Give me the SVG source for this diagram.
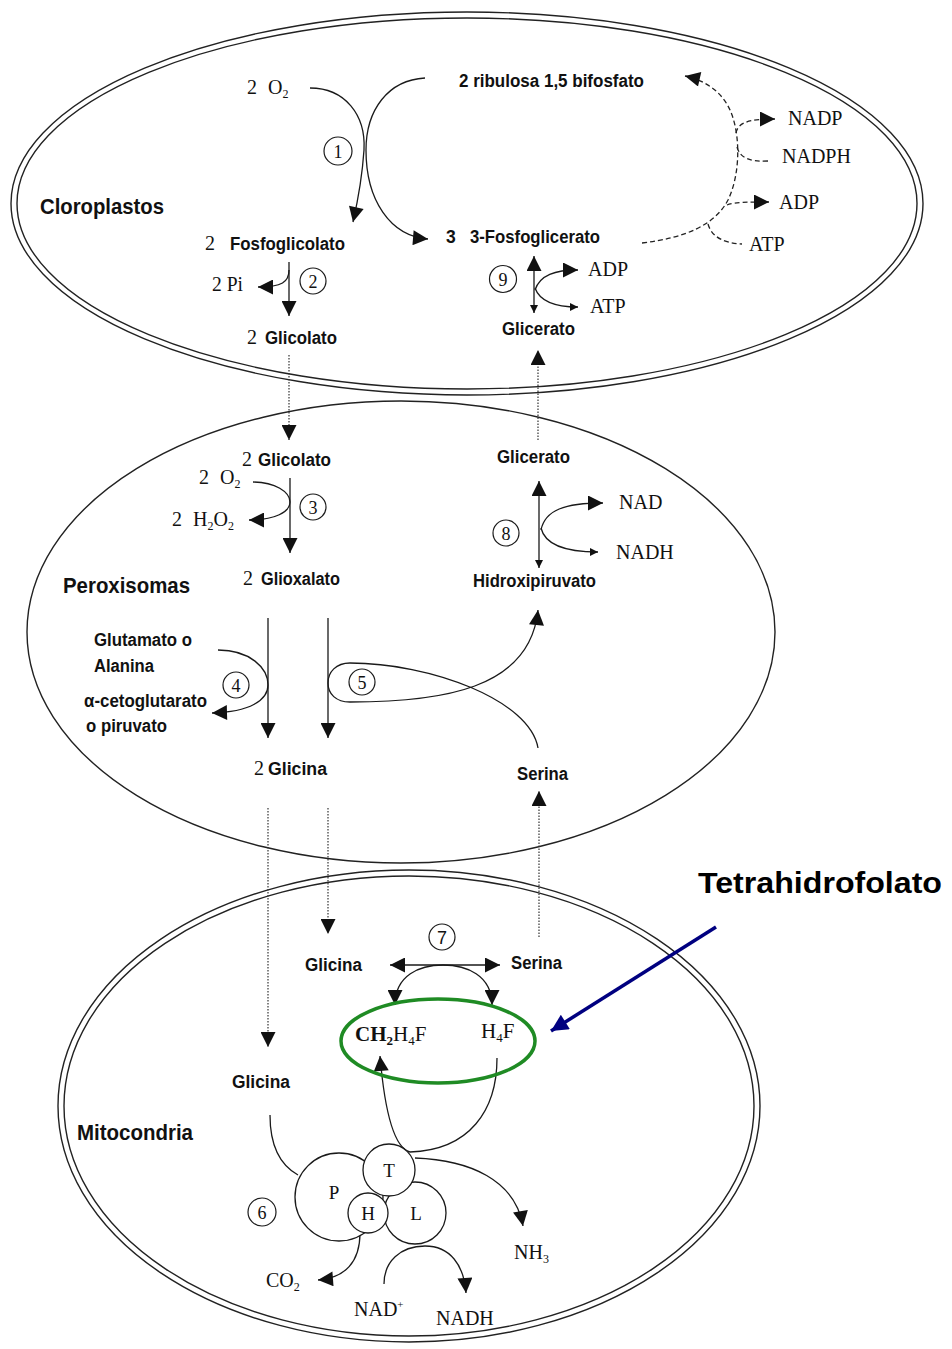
<svg xmlns="http://www.w3.org/2000/svg" width="952" height="1349" viewBox="0 0 952 1349">
<style>
.b{font-family:"Liberation Sans",Arial,sans-serif;font-weight:bold;font-size:17.5px;fill:#111}
.h{font-family:"Liberation Sans",Arial,sans-serif;font-weight:bold;font-size:21.5px;fill:#111}
.s{font-family:"Liberation Serif","Times New Roman",serif;font-size:20px;fill:#111}
.n{font-family:"Liberation Serif","Times New Roman",serif;font-size:18px;fill:#111;text-anchor:middle}
.e{font-family:"Liberation Serif","Times New Roman",serif;font-size:19px;fill:#111;text-anchor:middle}
.c{fill:none;stroke:#1a1a1a;stroke-width:1.3}
.d{fill:none;stroke:#333;stroke-width:1.2;stroke-dasharray:1.5 1.5}
.da{fill:none;stroke:#222;stroke-width:1.3;stroke-dasharray:5 3}
.wall{fill:none;stroke:#222;stroke-width:1.4}
.num{fill:#fff;stroke:#1a1a1a;stroke-width:1.2}
.enz{fill:#fff;stroke:#1a1a1a;stroke-width:1.3}
</style>
<defs>
<marker id="a" viewBox="0 0 10 10" refX="10" refY="5" markerWidth="17" markerHeight="15" markerUnits="userSpaceOnUse" orient="auto-start-reverse"><path d="M0,0L10,5L0,10z" fill="#111"/></marker>
<marker id="sm" viewBox="0 0 10 10" refX="10" refY="5" markerWidth="9" markerHeight="8" markerUnits="userSpaceOnUse" orient="auto-start-reverse"><path d="M0,0L10,5L0,10z" fill="#111"/></marker>
<marker id="bl" viewBox="0 0 10 10" refX="10" refY="5" markerWidth="22" markerHeight="17" markerUnits="userSpaceOnUse" orient="auto"><path d="M0,0L10,5L0,10z" fill="#000080"/></marker>
</defs>
<rect width="952" height="1349" fill="#fff"/>

<g id="cloroplasto">
<ellipse class="wall" cx="467" cy="203.5" rx="456" ry="191.5"/>
<ellipse class="wall" cx="467" cy="203.5" rx="450" ry="185.5"/>
<text class="h" x="40" y="214" textLength="124" lengthAdjust="spacingAndGlyphs">Cloroplastos</text>
</g>
<g id="peroxisoma">
<ellipse class="wall" cx="401" cy="632" rx="374" ry="231"/>
<text class="h" x="63" y="593" textLength="127" lengthAdjust="spacingAndGlyphs">Peroxisomas</text>
</g>
<g id="mitocondria">
<ellipse class="wall" cx="409" cy="1106" rx="351" ry="236"/>
<ellipse class="wall" cx="409" cy="1106" rx="345" ry="230"/>
<text class="h" x="77" y="1140" textLength="116" lengthAdjust="spacingAndGlyphs">Mitocondria</text>
</g>

<g id="connectors">
<path class="c" d="M310,88 C345,88 366,115 364,150 C362,180 358,200 353,222" marker-end="url(#a)"/>
<path class="c" d="M425,78 C388,80 366,110 366,150 C366,200 390,236 428,239" marker-end="url(#a)"/>
<path class="c" d="M289,262 L289,316" marker-end="url(#a)"/>
<path class="c" d="M289,270 C289,282 282,287 258,287" marker-end="url(#a)"/>
<path class="c" d="M534,313 L534,256" marker-end="url(#a)" marker-start="url(#sm)"/>
<path class="c" d="M535,290 C540,275 555,270 578,270" marker-end="url(#a)"/>
<path class="c" d="M535,288 C540,302 555,307 578,307" marker-end="url(#sm)"/>
<path class="da" d="M642,243 C685,238 715,225 728,200 C740,175 740,140 733,118 C727,98 712,82 685,76" marker-end="url(#a)"/>
<path class="da" d="M736,133 C738,122 750,119 775,119" marker-end="url(#a)"/>
<path class="da" d="M737,147 C740,158 750,162 768,161"/>
<path class="da" d="M727,205 C735,202 750,202 769,202" marker-end="url(#a)"/>
<path class="da" d="M708,224 C712,238 725,243 742,244"/>
<path class="d" d="M289,355 L289,440" marker-end="url(#a)"/>
<path class="d" d="M538,440 L538,350" marker-end="url(#a)"/>
<path class="c" d="M290,478 L290,553" marker-end="url(#a)"/>
<path class="c" d="M253,482 C275,482 290,492 290,502 C290,512 275,520 249,520" marker-end="url(#a)"/>
<path class="c" d="M268,618 L268,738" marker-end="url(#a)"/>
<path class="c" d="M328,618 L328,738" marker-end="url(#a)"/>
<path class="c" d="M218,650 C250,650 268,668 268,685 C268,700 250,712 212,713" marker-end="url(#a)"/>
<path class="c" d="M538,748 C530,700 430,663 350,663 C336,663 328,672 328,683 C328,694 336,702 350,702 C440,702 530,690 538,610" marker-end="url(#a)"/>
<path class="c" d="M539,568 L539,481" marker-end="url(#a)" marker-start="url(#sm)"/>
<path class="c" d="M541,530 C545,510 565,503 603,503" marker-end="url(#a)"/>
<path class="c" d="M541,528 C545,545 565,552 598,552" marker-end="url(#sm)"/>
<path class="d" d="M268,808 L268,1047" marker-end="url(#a)"/>
<path class="d" d="M328,808 L328,934" marker-end="url(#a)"/>
<path class="d" d="M539,937 L539,791" marker-end="url(#a)"/>
<path class="c" d="M390,965 L500,965" marker-start="url(#a)" marker-end="url(#a)"/>
<path class="c" d="M395,1005 C395,975 420,965 443,965 C466,965 492,975 492,1005" marker-start="url(#a)" marker-end="url(#a)"/>
<path class="c" d="M497,1058 C497,1110 470,1150 410,1152 C395,1148 385,1115 380,1056" marker-end="url(#a)"/>
<path class="c" d="M270,1115 C270,1145 280,1165 298,1175"/>
<path class="c" d="M415,1158 C470,1160 515,1180 523,1226" marker-end="url(#a)"/>
<path class="c" d="M360,1233 C360,1262 345,1278 318,1280" marker-end="url(#a)"/>
<path class="c" d="M384,1284 C384,1262 400,1246 425,1246 C450,1246 464,1265 466,1293" marker-end="url(#a)"/>
<path d="M716,927 L551,1031" stroke="#000080" stroke-width="3.5" fill="none" marker-end="url(#bl)"/>
</g>

<g id="ribulosa"><text class="b" x="459" y="87" textLength="185" lengthAdjust="spacingAndGlyphs">2 ribulosa 1,5 bifosfato</text></g>
<g id="o2-c"><text class="s" x="247" y="94">2</text><text class="s" x="268" y="94">O<tspan font-size="12" dy="4">2</tspan></text></g>
<g id="n1"><circle class="num" cx="338" cy="151" r="14"/><text class="n" x="338" y="157.5">1</text></g>
<g id="fosfoglicolato"><text class="s" x="205" y="250">2</text><text class="b" x="230" y="250" textLength="115" lengthAdjust="spacingAndGlyphs">Fosfoglicolato</text></g>
<g id="fosfoglicerato"><text class="b" x="446" y="243">3</text><text class="b" x="470" y="243" textLength="130" lengthAdjust="spacingAndGlyphs">3-Fosfoglicerato</text></g>
<g id="pi"><text class="s" x="212" y="291" textLength="31" lengthAdjust="spacingAndGlyphs">2 Pi</text></g>
<g id="n2"><circle class="num" cx="313" cy="281" r="13"/><text class="n" x="313" y="287.5">2</text></g>
<g id="glicolato-c"><text class="s" x="247" y="344">2</text><text class="b" x="265" y="344" textLength="72" lengthAdjust="spacingAndGlyphs">Glicolato</text></g>
<g id="n9"><circle class="num" cx="503" cy="279" r="13.5"/><text class="n" x="503" y="285.5">9</text></g>
<g id="adp-c1"><text class="s" x="588" y="276">ADP</text></g>
<g id="atp-c1"><text class="s" x="590" y="313">ATP</text></g>
<g id="glicerato-c"><text class="b" x="502" y="335" textLength="73" lengthAdjust="spacingAndGlyphs">Glicerato</text></g>
<g id="nadp"><text class="s" x="788" y="125">NADP</text></g>
<g id="nadph"><text class="s" x="782" y="163">NADPH</text></g>
<g id="adp-c2"><text class="s" x="779" y="209">ADP</text></g>
<g id="atp-c2"><text class="s" x="749" y="251">ATP</text></g>

<g id="glicolato-p"><text class="s" x="242" y="466">2</text><text class="b" x="258" y="466" textLength="73" lengthAdjust="spacingAndGlyphs">Glicolato</text></g>
<g id="o2-p"><text class="s" x="199" y="484">2</text><text class="s" x="220" y="484">O<tspan font-size="12" dy="4">2</tspan></text></g>
<g id="h2o2"><text class="s" x="172" y="526">2</text><text class="s" x="193" y="526">H<tspan font-size="12" dy="4">2</tspan><tspan dy="-4">O</tspan><tspan font-size="12" dy="4">2</tspan></text></g>
<g id="n3"><circle class="num" cx="313" cy="507" r="13"/><text class="n" x="313" y="513.5">3</text></g>
<g id="glioxalato"><text class="s" x="243" y="585">2</text><text class="b" x="261" y="585" textLength="79" lengthAdjust="spacingAndGlyphs">Glioxalato</text></g>
<g id="glutamato"><text class="b" x="94" y="646" textLength="98" lengthAdjust="spacingAndGlyphs">Glutamato o</text><text class="b" x="94" y="672" textLength="60" lengthAdjust="spacingAndGlyphs">Alanina</text></g>
<g id="n4"><circle class="num" cx="236" cy="685" r="13"/><text class="n" x="236" y="691.5">4</text></g>
<g id="cetoglutarato"><text class="b" x="84" y="707" textLength="123" lengthAdjust="spacingAndGlyphs">α-cetoglutarato</text><text class="b" x="86" y="732" textLength="81" lengthAdjust="spacingAndGlyphs">o piruvato</text></g>
<g id="n5"><circle class="num" cx="362" cy="682" r="13"/><text class="n" x="362" y="688.5">5</text></g>
<g id="glicina-p"><text class="s" x="254" y="775">2</text><text class="b" x="268" y="775" textLength="59" lengthAdjust="spacingAndGlyphs">Glicina</text></g>
<g id="glicerato-p"><text class="b" x="497" y="463" textLength="73" lengthAdjust="spacingAndGlyphs">Glicerato</text></g>
<g id="n8"><circle class="num" cx="506" cy="533" r="13"/><text class="n" x="506" y="539.5">8</text></g>
<g id="nad-p"><text class="s" x="619" y="509">NAD</text></g>
<g id="nadh-p"><text class="s" x="616" y="559">NADH</text></g>
<g id="hidroxipiruvato"><text class="b" x="473" y="587" textLength="123" lengthAdjust="spacingAndGlyphs">Hidroxipiruvato</text></g>
<g id="serina-p"><text class="b" x="517" y="780" textLength="51" lengthAdjust="spacingAndGlyphs">Serina</text></g>

<g id="n7"><circle class="num" cx="442" cy="937" r="13"/><text class="n" x="442" y="943.5" style="font-family:'Liberation Sans',Arial,sans-serif">7</text></g>
<g id="glicina-m1"><text class="b" x="305" y="971" textLength="57" lengthAdjust="spacingAndGlyphs">Glicina</text></g>
<g id="serina-m"><text class="b" x="511" y="969" textLength="51" lengthAdjust="spacingAndGlyphs">Serina</text></g>
<g id="thf">
<ellipse cx="438" cy="1041" rx="97" ry="42" fill="none" stroke="#1f8b24" stroke-width="3.5"/>
<text class="s" x="355" y="1041" style="font-size:21px"><tspan font-weight="bold">CH</tspan><tspan font-weight="bold" font-size="13" dy="4">2</tspan><tspan dy="-4">H</tspan><tspan font-size="13" dy="4">4</tspan><tspan dy="-4">F</tspan></text>
<text class="s" x="481" y="1038" style="font-size:21px">H<tspan font-size="13" dy="4">4</tspan><tspan dy="-4">F</tspan></text>
</g>
<g id="glicina-m2"><text class="b" x="232" y="1088" textLength="58" lengthAdjust="spacingAndGlyphs">Glicina</text></g>
<g id="complejo">
<circle class="enz" cx="339" cy="1197" r="44"/>
<circle class="enz" cx="415" cy="1213" r="31"/>
<circle class="enz" cx="368" cy="1213" r="20"/>
<circle class="enz" cx="389" cy="1170" r="26"/>
<text class="e" x="334" y="1199">P</text>
<text class="e" x="389" y="1177">T</text>
<text class="e" x="368" y="1220">H</text>
<text class="e" x="416" y="1220">L</text>
</g>
<g id="n6"><circle class="num" cx="262" cy="1212" r="14"/><text class="n" x="262" y="1218.5">6</text></g>
<g id="nh3"><text class="s" x="514" y="1259">NH<tspan font-size="12" dy="4">3</tspan></text></g>
<g id="co2"><text class="s" x="266" y="1287">CO<tspan font-size="12" dy="4">2</tspan></text></g>
<g id="nad-m"><text class="s" x="354" y="1316">NAD<tspan font-size="11" dy="-8">+</tspan></text></g>
<g id="nadh-m"><text class="s" x="436" y="1325">NADH</text></g>
<g id="tetrahidrofolato"><text x="698" y="893" font-family="Liberation Sans,Arial,sans-serif" font-weight="bold" font-size="29" fill="#000" textLength="244" lengthAdjust="spacingAndGlyphs">Tetrahidrofolato</text></g>
</svg>
